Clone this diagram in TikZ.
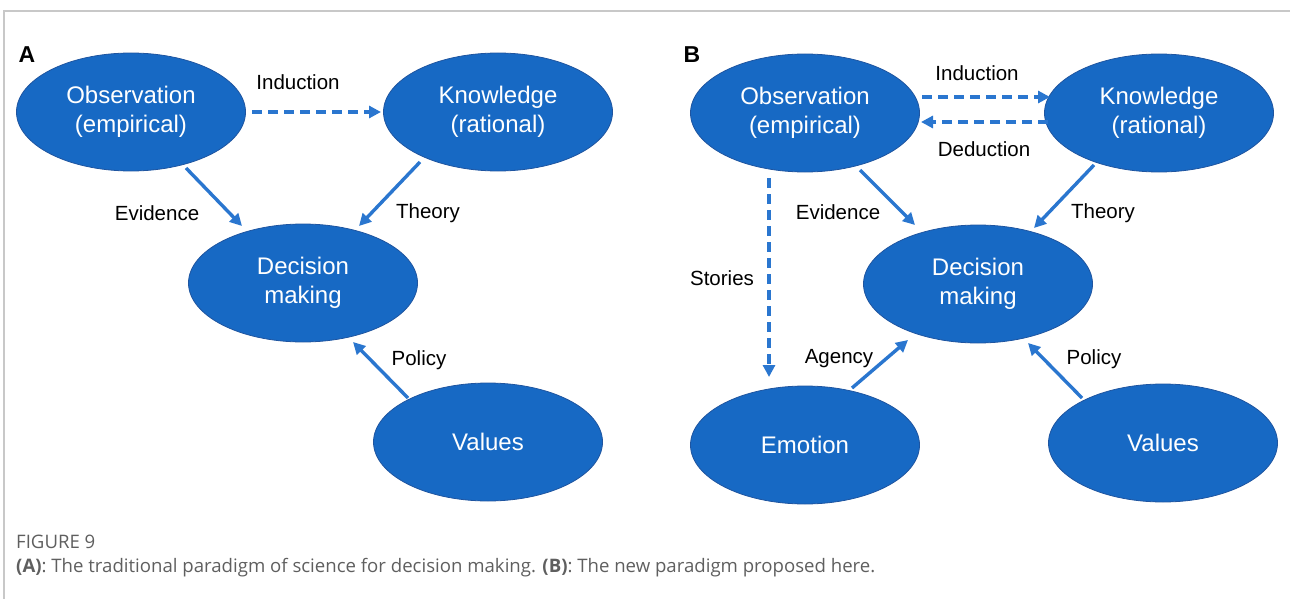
\documentclass[tikz,border=0pt]{standalone}
\usepackage{fontspec}
\setmainfont{Liberation Sans}
\newfontfamily\capfont{Open Sans}
\usetikzlibrary{shapes.geometric,arrows.meta,calc}
\definecolor{ellblue}{HTML}{1769C4}
\definecolor{ellline}{HTML}{1F55A0}
\definecolor{arrblue}{HTML}{2A76CF}
\definecolor{capgray}{HTML}{5F5F5F}
\definecolor{framegray}{HTML}{C8C8C8}
\tikzset{
 ell/.style={ellipse, fill=ellblue, draw=ellline, line width=0.8pt, minimum width=229pt, minimum height=118pt, inner sep=0pt, text=white, align=center, font=\fontsize{24}{29}\selectfont},
 lbl/.style={font=\fontsize{20.5}{24}\selectfont, text=black, inner sep=0pt},
 conn/.style={draw=arrblue, line width=3.4pt, -{Triangle[length=12pt,width=12pt]}},
 dconn/.style={conn, dash pattern=on 10pt off 6pt},
 panel/.style={font=\fontsize{23}{23}\selectfont\bfseries, inner sep=0pt},
 captext/.style={anchor=west, inner sep=0pt, text=capgray, font=\capfont\fontsize{18.6}{22}\selectfont},
}
\begin{document}
\begin{tikzpicture}[x=1pt,y=-1pt]
\useasboundingbox (0,0) rectangle (1290,599);
\draw[framegray, line width=1.5pt] (4,599) -- (4,11) -- (1290,11);

% Panel A
\node[panel] (la) at (27,55) {A};
\node[ell] (obsA) at (131,112) {Observation\\(empirical)};
\node[ell] (knowA) at (498,112) {Knowledge\\(rational)};
\node[ell] (decA) at (303,283) {Decision\\making};
\node[ell] (valA) at (488,442) {Values};

\draw[dconn] ($(obsA)+(121,0)$) -- ($(knowA)+(-117,0)$);
\draw[conn] ($(obsA)+(55,56)$) -- ($(decA)+(-61,-57)$);
\draw[conn] ($(knowA)+(-78,50)$) -- ($(decA)+(56,-57)$);
\draw[conn] ($(valA)+(-80,-44)$) -- ($(decA)+(50,59)$);

\node[lbl] (indA) at (298,82) {Induction};
\node[lbl] (evA) at (157,213) {Evidence};
\node[lbl] (thA) at (428,213) {Theory};
\node[lbl] (poA) at (419,360) {Policy};

% Panel B
\node[panel] (lb) at (692,55) {B};
\node[ell] (obsB) at (805,113) {Observation\\(empirical)};
\node[ell] (knowB) at (1159,113) {Knowledge\\(rational)};
\node[ell] (decB) at (978,284) {Decision\\making};
\node[ell] (emoB) at (805,445) {Emotion};
\node[ell] (valB) at (1163,443) {Values};

\draw[dconn] ($(obsB)+(117,-16)$) -- ($(knowB)+(-109,-16)$);
\draw[dconn] ($(knowB)+(-111,9)$) -- ($(obsB)+(116,9)$);
\draw[dconn] ($(obsB)+(-36,65)$) -- ($(emoB)+(-36,-68)$);
\draw[conn] ($(obsB)+(55,57)$) -- ($(decB)+(-63,-59)$);
\draw[conn] ($(knowB)+(-65,52)$) -- ($(decB)+(56,-56)$);
\draw[conn] ($(emoB)+(47,-57)$) -- ($(decB)+(-70,56)$);
\draw[conn] ($(valB)+(-81,-45)$) -- ($(decB)+(50,59)$);

\node[lbl] (indB) at (977,73) {Induction};
\node[lbl] (dedB) at (984,149) {Deduction};
\node[lbl] (stB) at (722,278) {Stories};
\node[lbl] (evB) at (838,212) {Evidence};
\node[lbl] (thB) at (1103,213) {Theory};
\node[lbl] (agB) at (839,359) {Agency};
\node[lbl] (poB) at (1094,359) {Policy};

% Caption
\node[captext] (fig) at (16,542) {FIGURE 9};
\node[captext] (captxt) at (16,568) {\textbf{(A)}: The traditional paradigm of science for decision making. \textbf{(B)}: The new paradigm proposed here.};
\end{tikzpicture}
\end{document}
